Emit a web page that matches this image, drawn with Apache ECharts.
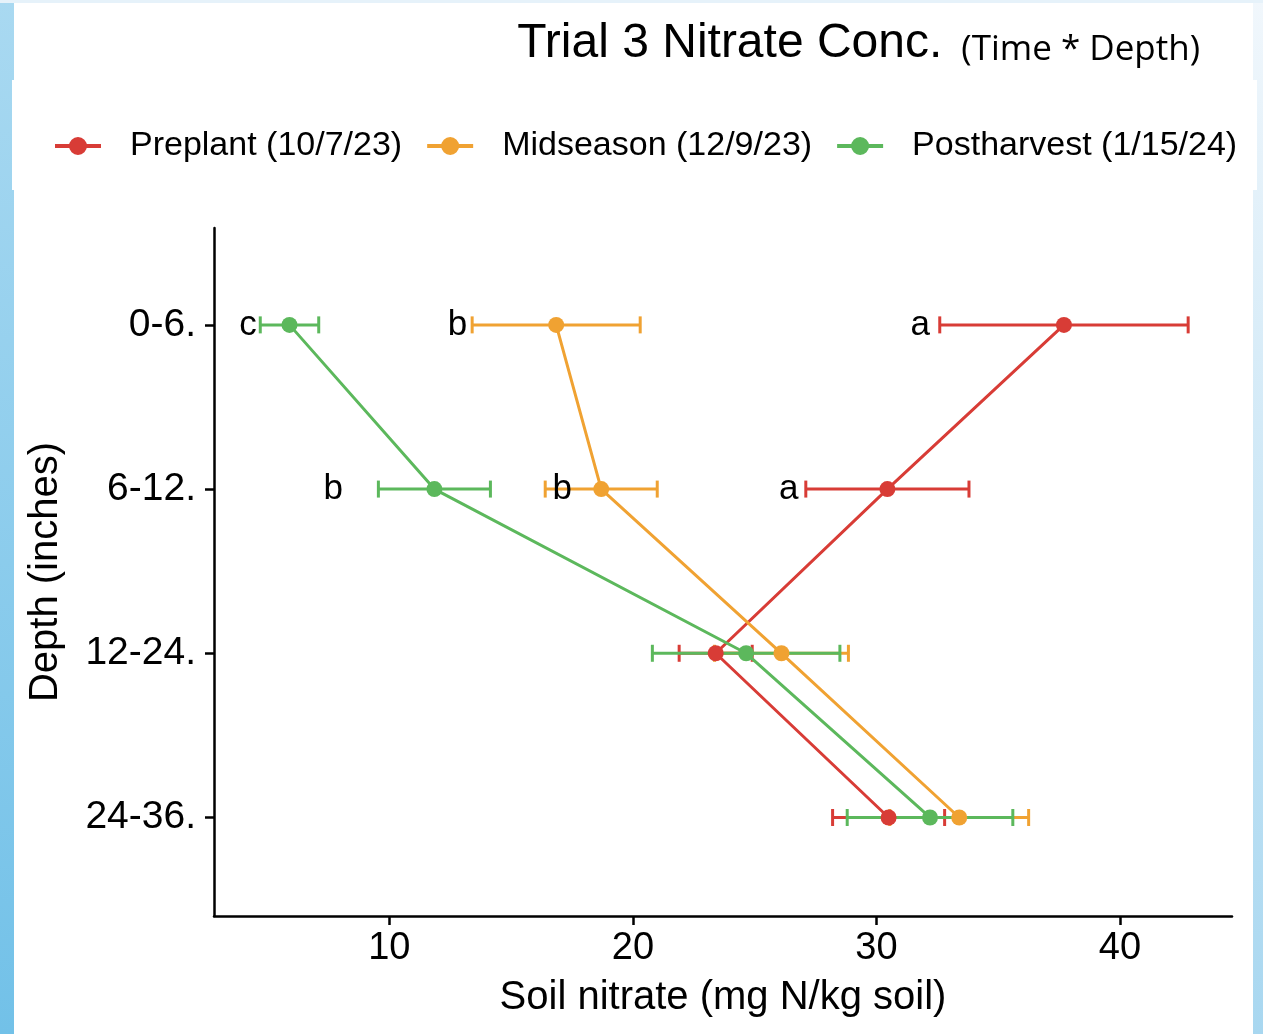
<!DOCTYPE html>
<html>
<head>
<meta charset="utf-8">
<title>Trial 3 Nitrate Conc.</title>
<style>
    html,body{margin:0;padding:0;width:1263px;height:1034px;overflow:hidden;background:#fff;}
    /*边框*/
    .edge-l{position:absolute;left:0;top:0;width:14px;height:1034px;background:linear-gradient(#a9d9f1,#72c1e8);}
    .edge-r{position:absolute;right:0;top:0;width:10px;height:1034px;background:linear-gradient(#f1f7fc,#a8d7f0);}
    .edge-t{position:absolute;left:0;top:0;width:1263px;height:3px;background:#e6f2fa;}
    .band{position:absolute;left:12px;top:80px;width:1245px;height:110px;background:#fff;}
    #main{position:absolute;left:0;top:0;width:1263px;height:1034px;}
</style>
</head>
<body>
<div class="edge-l"></div>
<div class="edge-r"></div>
<div class="edge-t"></div>
<div class="band"></div>
<div id="main"></div>
<script src="https://cdn.jsdelivr.net/npm/echarts@6/dist/echarts.min.js"></script>
<script>
    // depth categories (top to bottom)
    var depths = ['0-6.', '6-12.', '12-24.', '24-36.'];
    var xTicks = [10, 20, 30, 40];

    var names = ['Preplant (10/7/23)', 'Midseason (12/9/23)', 'Postharvest (1/15/24)'];
    var colors = ['#d83c36', '#f0a232', '#5cb85c'];

    // means
    var preplantMean = [37.7, 30.45, 23.4, 30.5];
    var midseasonMean = [16.85, 18.7, 26.1, 33.4];
    var postharvestMean = [5.9, 11.85, 24.65, 32.2];
    // error bar half widths
    var preplantErr = [5.1, 3.35, 1.5, 2.3];
    var midseasonErr = [3.45, 2.3, 2.75, 2.85];
    var postharvestErr = [1.2, 2.3, 3.85, 3.4];

    // significance letters (only first two depths) and where they sit
    var preplantLetters = ['a', 'a'];
    var preplantLetterX = [31.8, 26.4];
    var midseasonLetters = ['b', 'b'];
    var midseasonLetterX = [12.8, 17.1];
    var postharvestLetters = ['c', 'b'];
    var postharvestLetterX = [4.2, 7.7];

    var means = [preplantMean, midseasonMean, postharvestMean];
    var errs = [preplantErr, midseasonErr, postharvestErr];
    var letters = [preplantLetters, midseasonLetters, postharvestLetters];
    var letterX = [preplantLetterX, midseasonLetterX, postharvestLetterX];

    var font = '"Liberation Sans", Arial, sans-serif';
    // legend icon: line with a dot
    var legendIcon = 'path://M0,7H46V11H0Z M23,0A9,9 0 1,1 22.99,0Z';
    var myChart = echarts.init(document.getElementById('main'), null, {renderer: 'canvas'});

    var series = [];
    //误差线
    names.forEach(function (nm, k) {
        series.push({
            name: nm + ' err',
            type: 'custom',
            z: 1,
            renderItem: function (params, api) {
                var y = api.value(2);
                var p1 = api.coord([api.value(0), y]);
                var p2 = api.coord([api.value(1), y]);
                var h = 8.5;
                var st = {stroke: colors[k], lineWidth: 3};
                return {
                    type: 'group',
                    children: [
                        {type: 'line', shape: {x1: p1[0], y1: p1[1], x2: p2[0], y2: p2[1]}, style: st},
                        {type: 'line', shape: {x1: p1[0], y1: p1[1] - h, x2: p1[0], y2: p1[1] + h}, style: st},
                        {type: 'line', shape: {x1: p2[0], y1: p2[1] - h, x2: p2[0], y2: p2[1] + h}, style: st}
                    ]
                };
            },
            data: means[k].map(function (m, i) {
                return [m - errs[k][i], m + errs[k][i], i + 1];
            })
        });
    });
    //折线
    names.forEach(function (nm, k) {
        series.push({
            name: nm,
            type: 'line',
            z: 3,
            symbol: 'circle',
            symbolSize: 16,
            legendIcon: legendIcon,
            lineStyle: {width: 3, color: colors[k]},
            itemStyle: {color: colors[k]},
            data: means[k].map(function (m, i) { return [m, i + 1]; })
        });
    });
    //字母
    names.forEach(function (nm, k) {
        series.push({
            name: nm + ' letters',
            type: 'custom',
            z: 4,
            renderItem: function (params, api) {
                var p = api.coord([api.value(0), api.value(1)]);
                return {
                    type: 'text',
                    x: p[0],
                    y: p[1],
                    style: {
                        text: letters[k][params.dataIndex],
                        fill: '#000',
                        font: '35px ' + font,
                        align: 'center',
                        verticalAlign: 'middle'
                    }
                };
            },
            data: letterX[k].map(function (x, i) { return [x, i + 1]; })
        });
    });

    var option = {
        animation: false,
        backgroundColor: 'transparent',
        title: {
            right: 58,
            top: 15,
            text: '{a|Trial 3 Nitrate Conc.}{b|(Time * Depth)}',
            textStyle: {
                rich: {
                    a: {fontSize: 48, fontFamily: font, fontWeight: 'normal', color: '#000', verticalAlign: 'bottom'},
                    b: {fontSize: 35, fontFamily: '"Open Sans", "Noto Sans", sans-serif', fontWeight: 'normal', color: '#000', verticalAlign: 'bottom', padding: [0, 0, 0, 19]}
                }
            }
        },
        legend: {
            data: names,
            icon: legendIcon,
            left: 50,
            top: 124,
            itemWidth: 46,
            itemHeight: 18,
            itemGap: 25,
            textStyle: {fontSize: 34, fontFamily: font, color: '#000', padding: [0, 0, 0, 24]}
        },
        grid: {left: 214, right: 31, top: 228, bottom: 118},
        xAxis: {
            type: 'value',
            min: 2.8,
            max: 44.6,
            name: 'Soil nitrate (mg N/kg soil)',
            nameLocation: 'middle',
            nameGap: 62,
            nameTextStyle: {fontSize: 40, fontFamily: font, color: '#000'},
            splitLine: {show: false},
            axisLine: {lineStyle: {color: '#000', width: 2.5}},
            axisTick: {length: 9, lineStyle: {color: '#000', width: 2.5}, customValues: xTicks},
            axisLabel: {fontSize: 38, fontFamily: font, color: '#000', margin: 14, customValues: xTicks}
        },
        yAxis: {
            type: 'value',
            inverse: true,
            min: 0.41,
            max: 4.6,
            name: 'Depth (inches)',
            nameLocation: 'middle',
            nameGap: 148,
            nameTextStyle: {fontSize: 40, fontFamily: font, color: '#000'},
            splitLine: {show: false},
            axisLine: {show: true, lineStyle: {color: '#000', width: 2.5}},
            axisTick: {show: true, length: 9, lineStyle: {color: '#000', width: 2.5}, customValues: [1, 2, 3, 4]},
            axisLabel: {
                fontSize: 39, fontFamily: font, color: '#000', margin: 18,
                customValues: [1, 2, 3, 4],
                formatter: function (v) { return depths[Math.round(v) - 1]; }
            }
        },
        series: series
    };
    myChart.setOption(option);
</script>
</body>
</html>
